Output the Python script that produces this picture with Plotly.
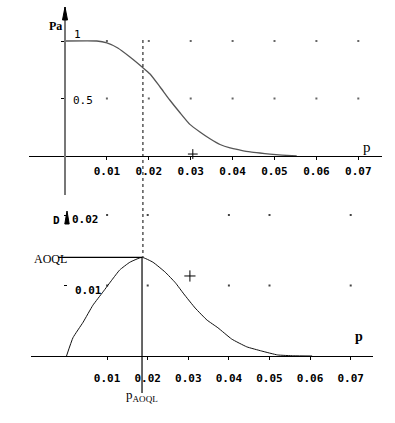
import plotly.graph_objects as go

# ---------------- data ----------------
x_ticks = [0.01, 0.02, 0.03, 0.04, 0.05, 0.06, 0.07]
x_tick_labels = ["0.01", "0.02", "0.03", "0.04", "0.05", "0.06", "0.07"]

# OC curve  Pa(p)
p_oc = [0, 0.0076, 0.0100, 0.0126, 0.0155, 0.0184, 0.0203, 0.0227, 0.0250, 0.0274,
        0.0298, 0.0322, 0.0346, 0.0370, 0.0394, 0.0418, 0.0442, 0.0465, 0.0489,
        0.0518, 0.0553]
pa = [1.0, 1.0, 0.983, 0.939, 0.861, 0.774, 0.713, 0.600, 0.487, 0.378,
      0.275, 0.209, 0.150, 0.100, 0.070, 0.052, 0.036, 0.026, 0.017,
      0.008, 0.0]
pa_ticks = [0.5, 1]
pa_tick_labels = ["0.5", "1"]

# AOQ curve D(p)
p_aoq = [0, 0.0016, 0.0041, 0.0065, 0.0090, 0.0112, 0.0131, 0.0156, 0.0186, 0.0213,
         0.0243, 0.0268, 0.0289, 0.0317, 0.0346, 0.0373, 0.0407, 0.0444, 0.0481,
         0.0520, 0.0560, 0.0605]
aoq = [0, 0.0026, 0.0048, 0.0072, 0.0091, 0.0108, 0.0122, 0.0133, 0.0140, 0.0133,
       0.0119, 0.0104, 0.0088, 0.0068, 0.0051, 0.0040, 0.0024, 0.0013, 0.0007,
       0.00015, 0.00003, 0]
d_ticks = [0.01, 0.02]
d_tick_labels = ["0.01", "0.02"]

p_aoql = 0.0186
aoql = 0.0140

grid_top_x = [0.01, 0.02, 0.03, 0.04, 0.05, 0.06, 0.07]
grid_bot_x = [0.01, 0.02, 0.04, 0.05, 0.07]

cursor_top = (0.0305, 0.017)
cursor_bot = (0.0304, 0.01135)

# ---------------- layout geometry (pixels) ----------------
W, H = 395, 423
TOP = dict(x0=65, xs=4190, y0=156, ys=115, left=29, right=382, top=7, bottom=195)
BOT = dict(x0=66.5, xs=4060, y0=356, ys=7050, left=31, right=373, top=205, bottom=400)


def xr(g):
    return [(g["left"] - g["x0"]) / g["xs"], (g["right"] - g["x0"]) / g["xs"]]


def yr(g):
    return [(g["y0"] - g["bottom"]) / g["ys"], (g["y0"] - g["top"]) / g["ys"]]


def dx(g):
    return [g["left"] / W, g["right"] / W]


def dy(g):
    return [1 - g["bottom"] / H, 1 - g["top"] / H]


def py(pix):
    return 1 - pix / H


def pxp(pix):
    return pix / W


MONO = "DejaVu Sans Mono"
SERIF = "Liberation Serif"

fig = go.Figure()

# grid dots
fig.add_trace(go.Scatter(
    x=[gx for gx in grid_top_x for _ in pa_ticks],
    y=[gy for _ in grid_top_x for gy in pa_ticks],
    mode="markers", marker=dict(symbol="square", size=2, color="#666"),
    xaxis="x", yaxis="y", hoverinfo="skip"))
fig.add_trace(go.Scatter(
    x=[gx for gx in grid_bot_x for _ in d_ticks],
    y=[gy for _ in grid_bot_x for gy in d_ticks],
    mode="markers", marker=dict(symbol="square", size=2, color="#444"),
    xaxis="x2", yaxis="y2", hoverinfo="skip"))

# OC curve
fig.add_trace(go.Scatter(x=p_oc, y=pa, mode="lines",
                         line=dict(color="#555", width=1.3, shape="spline", smoothing=0.5),
                         xaxis="x", yaxis="y", hoverinfo="skip"))
# AOQ curve
fig.add_trace(go.Scatter(x=p_aoq, y=aoq, mode="lines",
                         line=dict(color="#111", width=1, shape="spline", smoothing=0.4),
                         xaxis="x2", yaxis="y2", hoverinfo="skip"))

# cursors
fig.add_trace(go.Scatter(x=[cursor_top[0]], y=[cursor_top[1]], mode="markers",
                         marker=dict(symbol="cross-thin", size=7, line=dict(width=1, color="#000")),
                         xaxis="x", yaxis="y", hoverinfo="skip"))
fig.add_trace(go.Scatter(x=[cursor_bot[0]], y=[cursor_bot[1]], mode="markers",
                         marker=dict(symbol="cross-thin", size=8, line=dict(width=1, color="#000")),
                         xaxis="x2", yaxis="y2", hoverinfo="skip"))

tickfont = dict(family=MONO, size=11, color="#000", weight="bold")

fig.update_layout(
    width=W, height=H, autosize=False,
    margin=dict(l=0, r=0, t=0, b=0, pad=0),
    paper_bgcolor="white", plot_bgcolor="white",
    showlegend=False, hovermode=False,
    xaxis=dict(domain=dx(TOP), range=xr(TOP), anchor="free", position=py(TOP["y0"]),
               showline=True, linecolor="#000", linewidth=1, showgrid=False, zeroline=False,
               tickvals=x_ticks, ticktext=x_tick_labels, ticks="outside", ticklen=3,
               tickcolor="#000", tickfont=tickfont, ticklabelstandoff=2),
    yaxis=dict(domain=dy(TOP), range=yr(TOP), anchor="free", position=pxp(TOP["x0"]),
               side="right", showline=True, linecolor="#777", linewidth=1.5,
               showgrid=False, zeroline=False, tickvals=pa_ticks, ticks="inside",
               ticklen=3, tickcolor="#000", showticklabels=False),
    xaxis2=dict(domain=dx(BOT), range=xr(BOT), anchor="free", position=py(BOT["y0"]),
                showline=True, linecolor="#000", linewidth=1, showgrid=False, zeroline=False,
                tickvals=x_ticks, ticktext=x_tick_labels, ticks="outside", ticklen=3,
                tickcolor="#000", tickfont=tickfont, ticklabelstandoff=9),
    yaxis2=dict(domain=dy(BOT), range=yr(BOT), anchor="free", position=pxp(BOT["x0"]),
                side="right", showline=False, showgrid=False, zeroline=False,
                tickvals=d_ticks, ticks="inside", ticklen=3, tickcolor="#000",
                showticklabels=False),
)

# y tick labels as annotations (offset like the reference)
for v, t, xs, ys in zip(pa_ticks, pa_tick_labels, [6, 7], [-2, 7]):
    fig.add_annotation(x=0, y=v, xref="x", yref="y", text=t, showarrow=False,
                       xanchor="left", yanchor="middle", xshift=xs, yshift=ys,
                       font=dict(family=MONO, size=11, color="#000"))
for v, t, xs in zip(d_ticks, d_tick_labels, [6, 3]):
    fig.add_annotation(x=0, y=v, xref="x2", yref="y2", text=t, showarrow=False,
                       xanchor="left", yanchor="middle", xshift=xs, yshift=-5,
                       font=tickfont)

# axis titles / labels
fig.add_annotation(x=pxp(47), y=py(17), xref="paper", yref="paper", text="Pa",
                   showarrow=False, font=dict(family=SERIF, size=12, color="#000", weight="bold"))
fig.add_annotation(x=pxp(373), y=py(137), xref="paper", yref="paper", text="p",
                   showarrow=False, font=dict(family=SERIF, size=15, color="#000"))
fig.add_annotation(x=pxp(51), y=py(220), xref="paper", yref="paper", text="D",
                   showarrow=False, font=dict(family=MONO, size=11, color="#000", weight="bold"))
fig.add_annotation(x=pxp(365), y=py(346), xref="paper", yref="paper", text="p",
                   showarrow=False, font=dict(family=SERIF, size=14, color="#000", weight="bold"))
fig.add_annotation(x=pxp(32), y=py(259), xref="paper", yref="paper", text="AOQL",
                   showarrow=False, font=dict(family=SERIF, size=12, color="#000"))
fig.add_annotation(x=p_aoql, y=py(406), xref="x2", yref="paper", text="p<sub>AOQL</sub>",
                   showarrow=False, font=dict(family=SERIF, size=13, color="#000"))

# AOQL construction lines
fig.add_shape(type="line", xref="x2", yref="y2", x0=(58 - BOT["x0"]) / BOT["xs"], x1=p_aoql,
              y0=aoql, y1=aoql, line=dict(color="#000", width=1.2))
fig.add_shape(type="line", xref="x2", yref="y2", x0=p_aoql, x1=p_aoql,
              y0=aoql, y1=(BOT["y0"] - 393) / BOT["ys"], line=dict(color="#000", width=1.2))
fig.add_shape(type="line", xref="x", yref="paper", x0=p_aoql, x1=p_aoql,
              y0=py(40), y1=py(257), line=dict(color="#000", width=1, dash="dot"))

# axis arrows
def arrow(cx, ytop, ybot, half):
    return (f"M {pxp(cx - half)},{py(ybot)} L {pxp(cx + half)},{py(ybot)} "
            f"L {pxp(cx)},{py(ytop)} Z")

fig.add_shape(type="path", xref="paper", yref="paper", path=arrow(TOP["x0"], 7, 20, 2.5),
              fillcolor="#000", line=dict(color="#000", width=1))
fig.add_shape(type="path", xref="paper", yref="paper", path=arrow(67, 211, 224, 2.2),
              fillcolor="#000", line=dict(color="#000", width=1))

fig.write_html("out.html", config=dict(displayModeBar=False),
               post_script="document.body.style.margin='0';document.body.style.overflow='hidden';")
